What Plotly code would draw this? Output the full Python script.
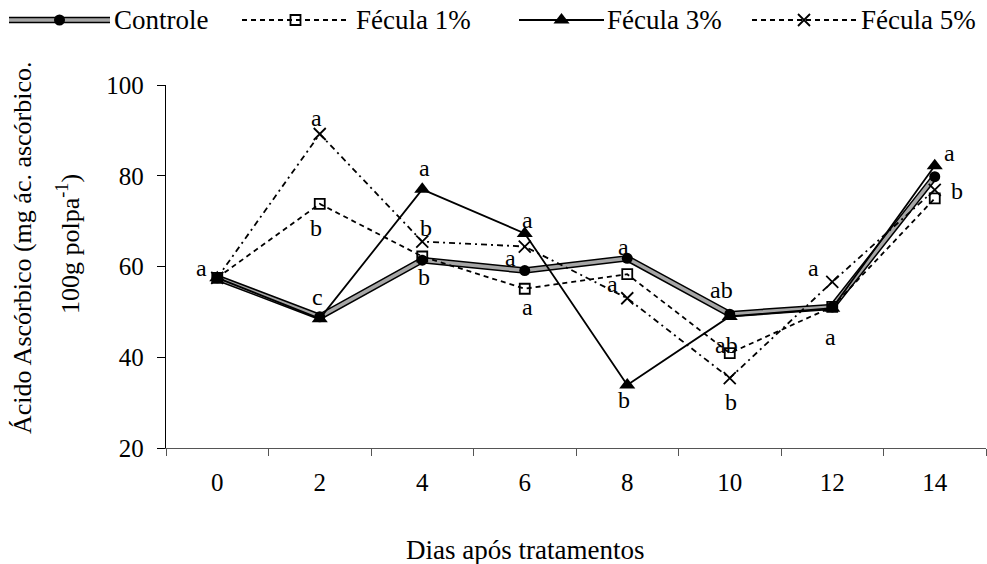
import plotly.graph_objects as go

# ---------------- data ----------------
days = ["0", "2", "4", "6", "8", "10", "12", "14"]
controle = [57.5, 48.9, 61.4, 59.1, 61.8, 49.5, 51.1, 79.8]
fecula1 = [57.5, 73.8, 62.2, 55.1, 58.3, 40.9, 51.1, 75.0]
fecula3 = [57.5, 48.5, 77.0, 67.3, 33.9, 49.0, 50.8, 82.2]
fecula5 = [57.5, 89.2, 65.5, 64.4, 53.0, 35.4, 56.6, 76.9]
series_names = ["Controle", "Fécula 1%", "Fécula 3%", "Fécula 5%"]

y_ticks = [20, 40, 60, 80, 100]

# significance letters: (day, series, letter)
letter_day = ["0", "2", "2", "2", "4", "4", "4", "6", "6", "6",
              "8", "8", "8", "10", "10", "10", "12", "12", "14", "14"]
letter_series = ["Controle", "Fécula 5%", "Fécula 1%", "Controle", "Fécula 3%", "Fécula 5%", "Controle",
                 "Fécula 3%", "Controle", "Fécula 1%", "Controle", "Fécula 1%", "Fécula 3%",
                 "Controle", "Fécula 1%", "Fécula 5%", "Fécula 5%", "Controle", "Fécula 3%", "Fécula 5%"]
letter_text = ["a", "a", "b", "c", "a", "b", "b", "a", "a", "a",
               "a", "a", "b", "ab", "ab", "b", "a", "a", "a", "b"]

# ---------------- styling ----------------
letter_offsets = [(-16, -10), (-3, -16), (-4, 24), (-2, -20), (2, -21), (4, -14), (2, 17),
                  (3, -13), (-14, -13), (3, 18), (-4, -11), (-15, 10), (-3, 15),
                  (-8, -24), (-3, -8), (1, 24), (-19, -14), (-2, 30), (15, -13), (22, 1)]

FONT = "Liberation Serif"
W, H = 987, 564
plot_left, plot_right, plot_top, plot_bottom = 166, 986, 85, 448

values = {"Controle": controle, "Fécula 1%": fecula1, "Fécula 3%": fecula3, "Fécula 5%": fecula5}

fig = go.Figure()

# Controle: gray band with black edges
fig.add_trace(go.Scatter(x=days, y=controle, mode="lines",
                         line=dict(color="black", width=6.5), showlegend=False, hoverinfo="skip"))
fig.add_trace(go.Scatter(x=days, y=controle, mode="lines+markers", name="Controle",
                         line=dict(color="#a6a6a6", width=3.5),
                         marker=dict(symbol="circle", size=11, color="black"), showlegend=False))
fig.add_trace(go.Scatter(x=days, y=fecula1, mode="lines+markers", name="Fécula 1%",
                         line=dict(color="black", width=1.8, dash="5px,4px"),
                         marker=dict(symbol="square-open", size=10, color="black", line=dict(width=1.8)),
                         showlegend=False))
fig.add_trace(go.Scatter(x=days, y=fecula3, mode="lines+markers", name="Fécula 3%",
                         line=dict(color="black", width=1.8),
                         marker=dict(symbol="triangle-up", size=14, color="black"), showlegend=False))
fig.add_trace(go.Scatter(x=days, y=fecula5, mode="lines+markers", name="Fécula 5%",
                         line=dict(color="black", width=1.8, dash="6px,4px,2px,4px"),
                         marker=dict(symbol="x-thin", size=12, color="black", line=dict(width=1.8, color="black")),
                         showlegend=False))

# letters (x given as category index so numeric-looking names are not misread)
for d, s, t, (dx, dy) in zip(letter_day, letter_series, letter_text, letter_offsets):
    i = days.index(d)
    fig.add_annotation(x=i, y=values[s][i], xref="x", yref="y", text=t, showarrow=False,
                       xshift=dx, yshift=-dy, xanchor="center", yanchor="middle",
                       font=dict(family=FONT, size=24, color="black"))

# ---------------- manual legend on an overlay axis ----------------
leg_items = [  # (name, line x0, line x1, text x)
    ("Controle", 9, 110, 112),
    ("Fécula 1%", 242, 349, 354),
    ("Fécula 3%", 519, 604, 605),
    ("Fécula 5%", 752, 856, 859),
]
leg_y = 20
leg_styles = {
    "Controle": [dict(line=dict(color="black", width=6.5), mode="lines"),
                 dict(line=dict(color="#a6a6a6", width=3.5), mode="lines")],
    "Fécula 1%": [dict(line=dict(color="black", width=1.8, dash="5px,4px"), mode="lines")],
    "Fécula 3%": [dict(line=dict(color="black", width=1.8), mode="lines")],
    "Fécula 5%": [dict(line=dict(color="black", width=1.8, dash="5px,4px"), mode="lines")],
}
leg_markers = {
    "Controle": dict(symbol="circle", size=11, color="black"),
    "Fécula 1%": dict(symbol="square-open", size=10, color="black", line=dict(width=1.8)),
    "Fécula 3%": dict(symbol="triangle-up", size=14, color="black"),
    "Fécula 5%": dict(symbol="x-thin", size=12, color="black", line=dict(width=1.8, color="black")),
}
for name, x0, x1, xt in leg_items:
    for st in leg_styles[name]:
        fig.add_trace(go.Scatter(x=[x0, x1], y=[leg_y, leg_y], xaxis="x2", yaxis="y2",
                                 showlegend=False, hoverinfo="skip", **st))
    fig.add_trace(go.Scatter(x=[(x0 + x1) / 2], y=[leg_y], xaxis="x2", yaxis="y2", mode="markers",
                             marker=leg_markers[name], showlegend=False, hoverinfo="skip"))
    fig.add_annotation(x=xt, y=leg_y, xref="x2", yref="y2", text=name, showarrow=False,
                       xanchor="left", yanchor="middle", font=dict(family=FONT, size=27, color="black"))

# axis titles (y title as two rotated lines)
fig.add_annotation(x=23 / W, y=1 - 248 / H, xref="paper", yref="paper", textangle=-90,
                   text="Ácido Ascórbico (mg ác. ascórbico.",
                   showarrow=False, xanchor="center", yanchor="middle",
                   font=dict(family=FONT, size=26, color="black"))
fig.add_annotation(x=68 / W, y=1 - 244 / H, xref="paper", yref="paper", textangle=-90,
                   text="100g polpa<sup>-1</sup>)",
                   showarrow=False, xanchor="center", yanchor="middle",
                   font=dict(family=FONT, size=26, color="black"))
fig.add_annotation(x=525 / W, y=1 - 550 / H, xref="paper", yref="paper",
                   text="Dias após tratamentos", showarrow=False, xanchor="center", yanchor="middle",
                   font=dict(family=FONT, size=27, color="black"))

fig.update_layout(
    width=W, height=H,
    margin=dict(l=0, r=0, t=0, b=0),
    paper_bgcolor="white", plot_bgcolor="white",
    showlegend=False,
    font=dict(family=FONT, color="black"),
    xaxis=dict(type="category", domain=[plot_left / W, plot_right / W], categoryorder="array",
               categoryarray=days, range=[-0.5, len(days) - 0.5], tickson="boundaries",
               ticks="outside", ticklen=7,
               tickcolor="#555", showline=True, linecolor="#555", linewidth=1.3,
               showgrid=False, zeroline=False, tickfont=dict(family=FONT, size=25, color="black"),
               ticklabelstandoff=12, automargin=False, anchor="y", fixedrange=True),
    yaxis=dict(range=[20, 100], domain=[1 - plot_bottom / H, 1 - plot_top / H], tickvals=y_ticks,
               ticks="outside", ticklen=8, tickcolor="black", showline=True, linecolor="black",
               linewidth=1.3, showgrid=False, zeroline=False,
               tickfont=dict(family=FONT, size=25, color="black"), ticklabelstandoff=8,
               automargin=False, anchor="x", fixedrange=True),
    xaxis2=dict(domain=[0, 1], range=[0, W], visible=False, anchor="y2", fixedrange=True),
    yaxis2=dict(domain=[1 - 40 / H, 1], range=[40, 0], visible=False, anchor="x2", fixedrange=True),
)

fig.write_html("out.html")
